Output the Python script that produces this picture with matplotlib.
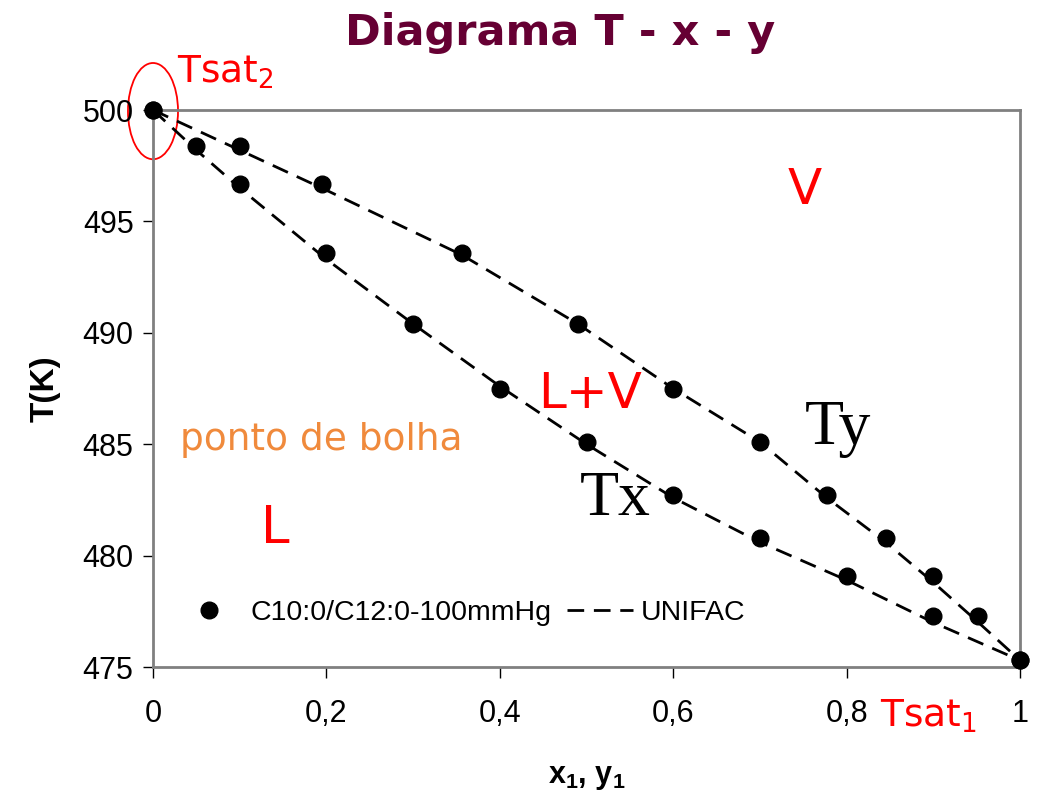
import matplotlib
matplotlib.use("Agg")
import matplotlib.pyplot as plt
from matplotlib.patches import Ellipse

# dados experimentais (pontos) - C10:0/C12:0 a 100 mmHg
x_liq = [0, 0.05, 0.1, 0.2, 0.3, 0.4, 0.5, 0.6, 0.7, 0.8, 0.9, 1.0]
T_liq = [500, 498.4, 496.7, 493.6, 490.4, 487.5, 485.1, 482.7, 480.8, 479.1, 477.3, 475.3]
y_vap = [0, 0.1, 0.195, 0.356, 0.49, 0.6, 0.7, 0.777, 0.845, 0.9, 0.952, 1.0]
T_vap = [500, 498.4, 496.7, 493.6, 490.4, 487.5, 485.1, 482.7, 480.8, 479.1, 477.3, 475.3]

# curvas UNIFAC (tracejadas)
x_unifac = [0, 0.05, 0.1, 0.2, 0.3, 0.4, 0.5, 0.6, 0.7, 0.8, 0.9, 1.0]
Tx_unifac = [500, 498.2, 496.5, 493.3, 490.4, 487.6, 485.0, 482.6, 480.6, 478.9, 477.0, 475.3]
y_unifac = [0, 0.1, 0.2, 0.356, 0.49, 0.6, 0.7, 0.777, 0.845, 0.9, 0.952, 1.0]
Ty_unifac = [500, 498.2, 496.4, 493.5, 490.4, 487.5, 485.1, 482.6, 480.6, 478.8, 477.0, 475.3]

xticks = [0, 0.2, 0.4, 0.6, 0.8, 1.0]
xticklabels = ["0", "0,2", "0,4", "0,6", "0,8", "1"]
yticks = [475, 480, 485, 490, 495, 500]

plt.rcParams["mathtext.fontset"] = "custom"
plt.rcParams["mathtext.rm"] = "Liberation Sans"
plt.rcParams["mathtext.bf"] = "Liberation Sans:bold"

fig = plt.figure(figsize=(10.38, 7.92), dpi=100)
ax = fig.add_axes([0.1474, 0.1578, 0.8353, 0.7033])

ax.plot(x_unifac, Tx_unifac, color="black", lw=2, dashes=(6, 3.5), clip_on=False, zorder=2)
ax.plot(y_unifac, Ty_unifac, color="black", lw=2, dashes=(6, 3.5), clip_on=False, zorder=2,
        label="UNIFAC")
ax.plot(x_liq, T_liq, "o", color="black", ms=12, clip_on=False, zorder=3,
        label="C10:0/C12:0-100mmHg")
ax.plot(y_vap, T_vap, "o", color="black", ms=12, clip_on=False, zorder=3)

ax.set_xlim(0, 1)
ax.set_ylim(475, 500)
ax.set_xticks(xticks)
ax.set_xticklabels(xticklabels)
ax.set_yticks(yticks)

for s in ax.spines.values():
    s.set_color("#808080")
    s.set_linewidth(2)
ax.tick_params(direction="out", length=7, width=1, colors="black", labelsize=22, pad=7)
ax.tick_params(axis="x", length=8, pad=15)
for lab in ax.get_xticklabels() + ax.get_yticklabels():
    lab.set_family("Liberation Sans")

ax.set_xlabel("x$_\\mathbf{1}$, y$_\\mathbf{1}$", fontsize=22, fontweight="bold",
              family="Liberation Sans", labelpad=24)
ax.set_ylabel("T(K)", fontsize=24, fontweight="bold", family="Liberation Sans", labelpad=16)

fig.suptitle("Diagrama T - x - y", x=0.54, y=0.985, fontsize=31, fontweight="bold",
             color="#660033", family="DejaVu Sans")

h, l = ax.get_legend_handles_labels()
ax.legend(h[::-1], l[::-1], loc="center left", bbox_to_anchor=(0.027, 0.097), ncol=2,
          frameon=False, borderpad=0, borderaxespad=0, handlelength=2.3,
          columnspacing=0.55, handletextpad=0.3,
          prop={"family": "Liberation Sans", "size": 20.5})

# anotações
red = "#ff0000"
ax.add_patch(Ellipse((0, 499.95), 0.0577, 4.32, fill=False, edgecolor=red, lw=1.3,
                     clip_on=False))
ax.text(0.028, 500.85, "Tsat$_2$", color=red, fontsize=27, family="DejaVu Sans",
        math_fontfamily="dejavusans", va="bottom", ha="left")
ax.text(0.894, 472.8, "Tsat$_1$", color=red, fontsize=27, family="DejaVu Sans",
        math_fontfamily="dejavusans", va="center", ha="center")
ax.text(0.752, 496.4, "V", color=red, fontsize=36, family="DejaVu Sans", ha="center", va="center")
ax.text(0.504, 487.25, "L+V", color=red, fontsize=36, family="DejaVu Sans", ha="center",
        va="center")
ax.text(0.031, 485.2, "ponto de bolha", color="#f08a3c", fontsize=27, family="DejaVu Sans",
        ha="left", va="center")
ax.text(0.141, 481.2, "L", color=red, fontsize=37, family="DejaVu Sans", ha="center", va="center")
ax.text(0.533, 482.5, "Tx", color="black", fontsize=46, family="Liberation Serif",
        ha="center", va="center")
ax.text(0.79, 485.7, "Ty", color="black", fontsize=46, family="Liberation Serif",
        ha="center", va="center")

fig.savefig("out.png", dpi=100)
